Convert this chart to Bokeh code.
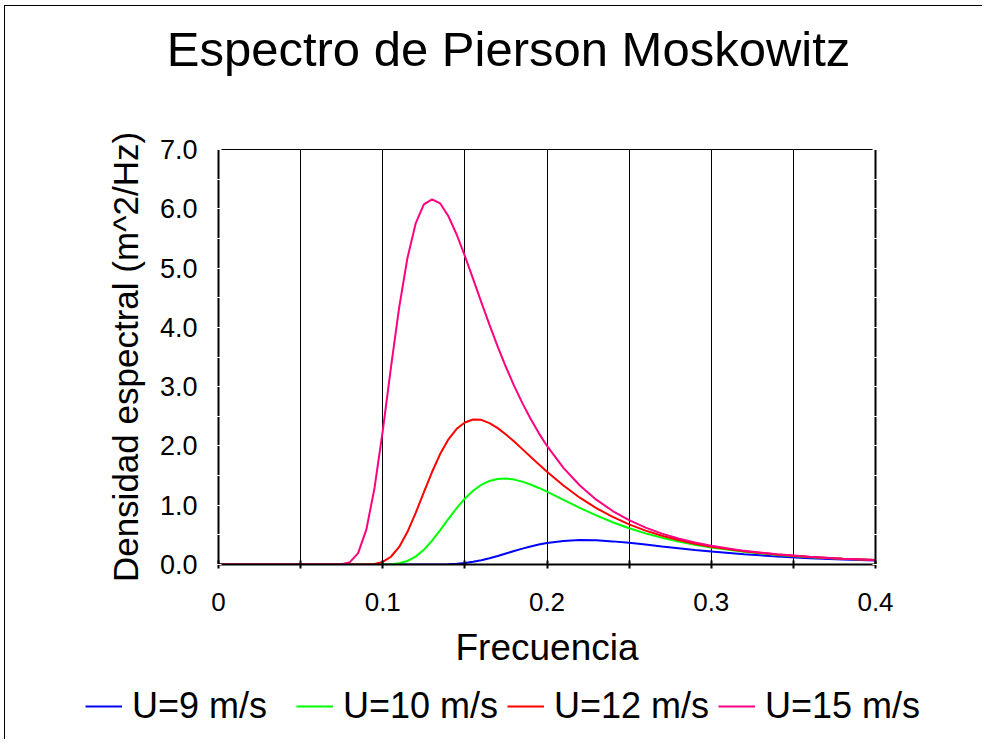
from bokeh.plotting import figure
from bokeh.models import (Range1d, LinearAxis, FixedTicker, PrintfTickFormatter,
                          Legend, LegendItem, Label)
from bokeh.embed import file_html
from bokeh.resources import INLINE

# ---- data ----
freq = [0.0, 0.01, 0.02, 0.03, 0.04, 0.05, 0.055, 0.06, 0.065, 0.07, 0.075, 0.08,
        0.085, 0.09, 0.095, 0.1, 0.105, 0.11, 0.115, 0.12, 0.125, 0.13, 0.135, 0.14,
        0.145, 0.15, 0.155, 0.16, 0.165, 0.17, 0.175, 0.18, 0.185, 0.19, 0.195, 0.2,
        0.21, 0.22, 0.23, 0.24, 0.25, 0.26, 0.27, 0.28, 0.29, 0.3,
        0.32, 0.34, 0.36, 0.38, 0.4]

u9 = [0, 0, 0, 0, 0, 0,
      0, 0, 0, 0, 0, 0, 0, 0, 0, 0, 0, 0, 0, 0,
      0.000, 0.001, 0.002, 0.005, 0.013, 0.025, 0.045, 0.072, 0.105, 0.144, 0.186,
      0.228, 0.268, 0.305, 0.337, 0.363,
      0.398, 0.412, 0.407, 0.390, 0.365, 0.336, 0.305, 0.275, 0.246, 0.219,
      0.173, 0.136, 0.107, 0.085, 0.067]

u10 = [0, 0, 0, 0, 0, 0,
       0, 0, 0, 0, 0, 0, 0, 0,
       0.000, 0.001, 0.005, 0.021, 0.059, 0.133, 0.248, 0.401, 0.580, 0.769, 0.951,
       1.113, 1.245, 1.344, 1.409, 1.442, 1.449, 1.432, 1.398, 1.349, 1.291, 1.228,
       1.091, 0.955, 0.828, 0.713, 0.612, 0.525, 0.450, 0.386, 0.332, 0.286,
       0.214, 0.162, 0.124, 0.096, 0.075]

u12 = [0, 0, 0, 0, 0, 0,
       0, 0, 0, 0, 0, 0, 0,
       0.002, 0.010, 0.044, 0.131, 0.296, 0.547, 0.865, 1.216, 1.560, 1.867, 2.112,
       2.289, 2.395, 2.445, 2.440, 2.385, 2.300, 2.193, 2.073, 1.946, 1.817, 1.689,
       1.565, 1.332, 1.127, 0.951, 0.802, 0.676, 0.571, 0.484, 0.412, 0.351, 0.300,
       0.222, 0.167, 0.127, 0.097, 0.076]

u15 = [0, 0, 0, 0, 0, 0,
       0, 0, 0, 0.000, 0.004, 0.040, 0.193, 0.587, 1.291, 2.253, 3.324, 4.336, 5.165,
       5.748, 6.073, 6.160, 6.090, 5.873, 5.566, 5.204, 4.817, 4.425, 4.041, 3.674,
       3.331, 3.013, 2.722, 2.457, 2.216, 2.000,
       1.630, 1.333, 1.094, 0.902, 0.748, 0.623, 0.521, 0.439, 0.371, 0.315,
       0.230, 0.171, 0.130, 0.099, 0.077]

title_text = "Espectro de Pierson Moskowitz"
labels = ["U=9 m/s", "U=10 m/s", "U=12 m/s", "U=15 m/s"]
colors = ["#0000FF", "#00FF00", "#FF0000", "#FF0080"]
series = [u9, u10, u12, u15]

x_major = [0.0, 0.1, 0.2, 0.3, 0.4]
x_minor = [0.05, 0.15, 0.25, 0.35]
x_grid = [0.05, 0.1, 0.15, 0.2, 0.25, 0.3, 0.35]
y_major = [0, 1, 2, 3, 4, 5, 6, 7]
y_minor = [0.5, 1.5, 2.5, 3.5, 4.5, 5.5, 6.5]

FONT = "Liberation Sans"


def strip(height, styles):
    f = figure(width=978, height=height, output_backend="svg", toolbar_location=None,
               x_range=Range1d(0, 0.4), y_range=Range1d(100, 101),
               x_axis_location=None, y_axis_location=None, min_border=0, title=None)
    f.styles = styles
    f.outline_line_color = None
    f.background_fill_color = "white"
    f.border_fill_color = "white"
    f.xgrid.visible = False
    f.ygrid.visible = False
    return f


# ---------------- title strip ----------------
tf = strip(90, {"border-top": "1px solid black", "border-left": "1px solid black",
                "margin-left": "4px", "margin-top": "5px"})
tf.add_layout(Label(x=503, y=48, x_units="screen", y_units="screen",
                    text=title_text, text_align="center", text_baseline="alphabetic",
                    text_font=FONT, text_font_size="49px", text_color="black"))

# ---------------- main chart ----------------
p = figure(width=978, height=586, output_backend="svg", toolbar_location=None,
           x_range=Range1d(0, 0.4), y_range=Range1d(0, 7),
           min_border_left=213, min_border_right=108,
           min_border_top=54, min_border_bottom=117,
           x_axis_label="Frecuencia", y_axis_label="Densidad espectral (m^2/Hz)",
           title=None)
p.styles = {"border-left": "1px solid black", "margin-left": "4px"}

p.outline_line_color = "black"
p.outline_line_width = 1
p.background_fill_color = "white"
p.border_fill_color = "white"

p.ygrid.grid_line_color = None
p.xgrid.ticker = FixedTicker(ticks=x_grid)
p.xgrid.grid_line_color = "black"
p.xgrid.grid_line_width = 1

xa = p.xaxis[0]
xa.ticker = FixedTicker(ticks=x_major, minor_ticks=x_minor)
xa.axis_line_width = 2
xa.axis_line_color = "black"
xa.major_tick_line_color = "black"
xa.major_tick_line_width = 2
xa.major_tick_in = 4
xa.major_tick_out = 4
xa.minor_tick_line_color = "black"
xa.minor_tick_line_width = 2
xa.minor_tick_in = 4
xa.minor_tick_out = 4
xa.major_label_text_font = FONT
xa.major_label_text_font_size = "26px"
xa.major_label_text_color = "black"
xa.major_label_standoff = 24
xa.axis_label_text_font = FONT
xa.axis_label_text_font_size = "37px"
xa.axis_label_text_font_style = "normal"
xa.axis_label_text_color = "black"
xa.axis_label_standoff = 13

ya = p.yaxis[0]
yticker = FixedTicker(ticks=y_major, minor_ticks=y_minor)
ya.ticker = yticker
ya.formatter = PrintfTickFormatter(format="%.1f")
ya.axis_line_width = 2
ya.axis_line_color = "black"
ya.major_tick_line_color = "white"
ya.major_tick_in = 3
ya.major_tick_out = 3
ya.minor_tick_line_color = "white"
ya.minor_tick_in = 3
ya.minor_tick_out = 3
ya.major_label_text_font = FONT
ya.major_label_text_font_size = "27px"
ya.major_label_text_color = "black"
ya.major_label_standoff = 18
ya.axis_label_text_font = FONT
ya.axis_label_text_font_size = "35px"
ya.axis_label_text_font_style = "normal"
ya.axis_label_text_color = "black"
ya.axis_label_standoff = 12

ra = LinearAxis(ticker=yticker, axis_line_width=2, axis_line_color="black",
                major_tick_line_color="white", major_tick_in=3, major_tick_out=3,
                minor_tick_line_color="white", minor_tick_in=3, minor_tick_out=3,
                major_label_text_color=None, major_label_text_font_size="1px")
p.add_layout(ra, "right")

for ys, c in zip(series, colors):
    p.line(freq, ys, line_color=c, line_width=2)

# ---------------- legend strip ----------------
lf = strip(58, {"border-left": "1px solid black", "margin-left": "4px"})

leg_rends = []
for ys, c in zip(series, colors):
    leg_rends.append(lf.line(freq, ys, line_color=c, line_width=2))

lg = Legend(items=[LegendItem(label=lab, renderers=[r]) for lab, r in zip(labels, leg_rends)],
            location=(80, 12), orientation="horizontal",
            glyph_width=37, glyph_height=30, label_width=157,
            label_standoff=10, padding=0, margin=0, spacing=7,
            border_line_color=None, background_fill_alpha=0,
            label_text_font=FONT, label_text_font_size="36px",
            label_text_color="black")
lf.add_layout(lg, "center")

open("out.html", "w").write(file_html([tf, p, lf], INLINE))
